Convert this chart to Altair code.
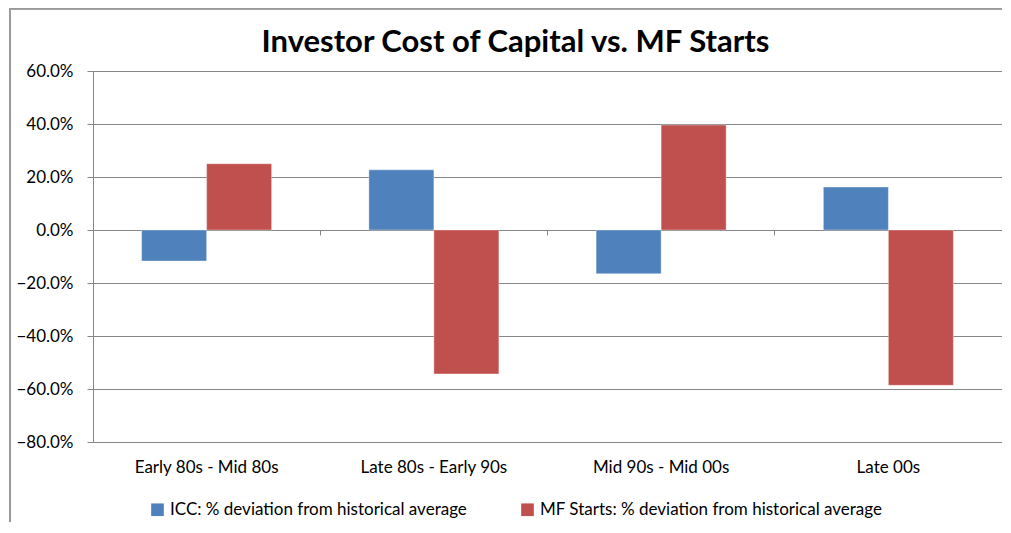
import altair as alt
import pandas as pd

categories = ["Early 80s - Mid 80s", "Late 80s - Early 90s", "Mid 90s - Mid 00s", "Late 00s"]
series_names = ["ICC: % deviation from historical average",
                "MF Starts: % deviation from historical average"]
icc_values = [-0.117, 0.227, -0.165, 0.162]
mf_values = [0.250, -0.543, 0.396, -0.586]
y_ticks = [-0.8, -0.6, -0.4, -0.2, 0.0, 0.2, 0.4, 0.6]
colors = ["#4F81BD", "#C0504D"]

rows = []
for c, a, b in zip(categories, icc_values, mf_values):
    rows.append({"category": c, "series": series_names[0], "value": a})
    rows.append({"category": c, "series": series_names[1], "value": b})
df = pd.DataFrame(rows)

FONT = "Lato"
W, H = 909, 371

bars = alt.Chart(df).mark_bar(stroke="#ffffff", strokeWidth=0.6, strokeOpacity=0.6).encode(
    x=alt.X("category:N", sort=categories, title=None,
            scale=alt.Scale(paddingInner=0, paddingOuter=0),
            axis=alt.Axis(orient="bottom", offset=-212, bandPosition=1,
                          domainColor="#868686", domainWidth=1,
                          tickColor="#868686", tickSize=5, tickWidth=1,
                          labelPadding=224, labelAngle=0, labelFont=FONT,
                          labelFontSize=17, labelColor="#000000", grid=False)),
    xOffset=alt.XOffset("series:N", sort=series_names,
                        scale=alt.Scale(paddingInner=0, paddingOuter=0.748)),
    y=alt.Y("value:Q", title=None,
            scale=alt.Scale(domain=[-0.8, 0.6], nice=False, zero=False),
            axis=alt.Axis(values=y_ticks, format=".1%", grid=True,
                          gridColor="#868686", gridWidth=1,
                          domainColor="#868686", tickColor="#868686",
                          tickSize=6, labelPadding=14, labelFont=FONT,
                          labelFontSize=17, labelColor="#000000")),
    color=alt.Color("series:N", sort=series_names,
                    scale=alt.Scale(domain=series_names, range=colors),
                    legend=alt.Legend(title=None, orient="none", legendX=56, legendY=430,
                                      direction="horizontal", symbolType="square",
                                      symbolSize=160, symbolStrokeWidth=0,
                                      labelFont=FONT, labelFontSize=17,
                                      labelColor="#000000", labelOffset=4,
                                      columnPadding=52, labelLimit=500)),
)

frame_left = alt.Chart(df).mark_rule(color="#9a9a9a", strokeWidth=1.5).encode(
    x=alt.value(-83), y=alt.value(-63), y2=alt.value(470))
frame_top = alt.Chart(df).mark_rule(color="#9a9a9a", strokeWidth=1.5).encode(
    x=alt.value(-83), x2=alt.value(915), y=alt.value(-62.5))

chart = alt.layer(frame_left, frame_top, bars).properties(
    width=W, height=H,
    title=alt.Title("Investor Cost of Capital vs. MF Starts", font=FONT, fontSize=31,
                    fontWeight="bold", color="#000000", anchor="middle", dx=-32, offset=-52),
    autosize=alt.AutoSizeParams(type="none"),
    padding={"left": 85, "top": 63, "right": 0, "bottom": 80},
).configure_view(stroke=None)

chart.save("out.html", embed_options={"renderer": "svg", "actions": False})
